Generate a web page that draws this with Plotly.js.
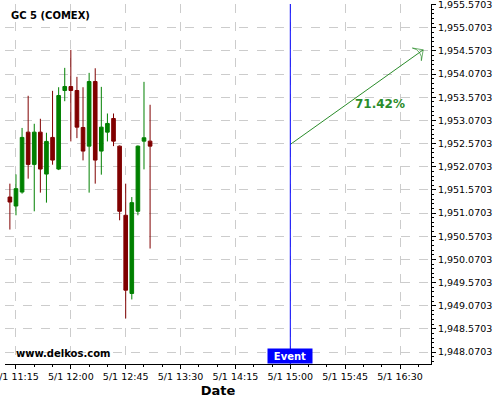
<!DOCTYPE html>
<html><head><meta charset="utf-8">
<script src="https://cdn.plot.ly/plotly-3.0.1.min.js"></script>
<style>html,body{margin:0;padding:0;background:#fff}#c{width:500px;height:400px}</style>
</head><body><div id="c"></div>
<script>
const day = '2024-05-01 ';
const times = ['11:10','11:15','11:20','11:25','11:30','11:35','11:40','11:45','11:50','11:55','12:00','12:05','12:10','12:15','12:20','12:25','12:30','12:35','12:40','12:45','12:50','12:55','13:00','13:05'];
const openV  = [1951.417,1951.223,1951.525,1952.818,1952.122,1952.818,1951.913,1952.704,1952.021,1953.717,1953.803,1953.717,1952.919,1952.516,1953.911,1952.409,1952.818,1953.113,1952.516,1951.023,1949.335,1951.109,1952.624,1952.624];
const highV  = [1951.706,1951.906,1952.909,1953.603,1952.999,1953.107,1952.805,1953.710,1953.788,1954.206,1954.594,1954.012,1953.788,1954.098,1954.197,1953.796,1953.221,1953.221,1952.530,1951.706,1951.417,1952.530,1953.904,1953.409];
const lowV   = [1950.715,1951.023,1951.490,1951.814,1951.109,1951.512,1951.296,1952.115,1951.999,1953.486,1952.618,1952.689,1952.208,1951.512,1951.706,1951.900,1952.618,1952.516,1950.915,1948.796,1949.206,1951.023,1952.014,1950.305];
const closeV = [1951.309,1951.598,1952.704,1952.122,1952.818,1952.021,1952.618,1952.215,1953.609,1953.803,1953.717,1952.926,1952.409,1953.911,1952.215,1952.926,1953.006,1952.624,1951.109,1949.406,1951.296,1952.516,1952.697,1952.516];

const eventTime = '15:00';
const arrowTimes = ['15:00','16:49'];
const arrowValues = [1952.553,1954.595];
const labelTime = '16:13:30';
const labelValue = 1953.426;
const labelText = '71.42%';
const titleText = 'GC 5 (COMEX)';
const siteText = 'www.delkos.com';
const eventText = 'Event';
const xTitle = 'Date';
const xRange = ['11:06','16:55:24'];
const yRange = [1947.812, 1955.585];
const yTick0 = 1948.0703;

const green = '#008000', red = '#800000', arrowGreen = '#2a8c2a';
const font = 'DejaVu Sans, Verdana, sans-serif';

const traces = [
  {type:'candlestick', x: times.map(t=>day+t), open: openV, high: highV, low: lowV, close: closeV,
   increasing:{line:{color:green,width:1}, fillcolor:green},
   decreasing:{line:{color:red,width:1}, fillcolor:red},
   whiskerwidth:0, hoverinfo:'skip'},
  {type:'scatter', mode:'lines+markers', x: arrowTimes.map(t=>day+t), y: arrowValues,
   line:{color:arrowGreen,width:1},
   marker:{symbol:['circle','arrow-wide-open'], size:[0,11], color:arrowGreen, angleref:'previous', line:{color:arrowGreen,width:1}},
   hoverinfo:'skip', cliponaxis:false}
];

const layout = {
  width:500, height:400,
  margin:{l:5, r:69, t:4, b:36},
  paper_bgcolor:'#fff', plot_bgcolor:'#fff',
  showlegend:false,
  boxgap:0.15,
  font:{family:font, size:9.5, color:'#000'},
  title:{text:titleText, x:11/500, xref:'container', xanchor:'left', y:1-15/400, yref:'container', yanchor:'middle', font:{family:font, size:10, weight:'bold', color:'#000'}},
  xaxis:{type:'date', range:xRange.map(t=>day+t), rangeslider:{visible:false},
    tick0: day+'11:15', dtick: 45*60*1000, tickformat:'%-m/%-d %H:%M', ticklabeloverflow:'allow',
    showgrid:true, gridcolor:'#cccccc', griddash:'dash', gridwidth:1,
    showline:true, linecolor:'#000', linewidth:1, ticks:'outside', ticklen:4, tickcolor:'#000',
    minor:{dtick:15*60*1000, tick0: day+'11:15', ticks:'outside', ticklen:2, tickcolor:'#000', showgrid:false},
    zeroline:false, tickfont:{family:font,size:9.5},
    title:{text:xTitle, font:{family:font, size:13, weight:'bold'}, standoff:4}},
  yaxis:{side:'right', range:yRange, tick0:yTick0, dtick:0.5, tickformat:',.4f', ticklabeloverflow:'allow',
    showgrid:true, gridcolor:'#cccccc', griddash:'dash', gridwidth:1,
    showline:true, linecolor:'#000', linewidth:1, ticks:'outside', ticklen:4, tickcolor:'#000',
    minor:{dtick:0.1, tick0:yTick0, ticks:'outside', ticklen:2, tickcolor:'#000', showgrid:false},
    zeroline:false, tickfont:{family:font,size:9.5}},
  shapes:[{type:'line', xref:'x', yref:'paper', x0:day+eventTime, x1:day+eventTime, y0:0, y1:1, line:{color:'#0000ff', width:1}}],
  annotations:[
    {xref:'x', yref:'y', x:day+labelTime, y:labelValue, text:labelText, showarrow:false, font:{family:font, size:12, weight:'bold', color:arrowGreen}},
    {xref:'x', yref:'paper', x:day+eventTime, y:0, yanchor:'bottom', text:eventText, showarrow:false, bgcolor:'#0000ff', width:42, height:12, borderpad:1, font:{family:font, size:10, weight:'bold', color:'#fff'}},
    {xref:'paper', yref:'paper', x:9/426, y:0.03, xanchor:'left', yanchor:'middle', text:siteText, showarrow:false, font:{family:font, size:10, weight:'bold', color:'#000'}}
  ]
};
Plotly.newPlot('c', traces, layout, {displayModeBar:false, staticPlot:true});
</script></body></html>
